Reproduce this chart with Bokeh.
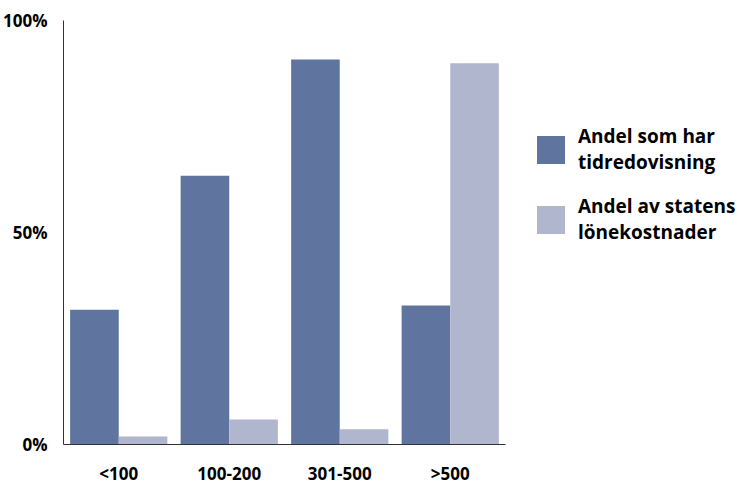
from bokeh.plotting import figure
from bokeh.models import ColumnDataSource, FactorRange, FixedTicker, Legend, LegendItem
from bokeh.transform import dodge
from bokeh.embed import file_html
from bokeh.resources import INLINE

categories = ["<100", "100-200", "301-500", ">500"]
tidredovisning = [31.8, 63.4, 90.8, 32.8]
lonekostnader = [1.9, 5.9, 3.6, 89.9]
y_ticks = [0, 50, 100]
y_tick_labels = {0: "0%", 50: "50%", 100: "100%"}
series_names = ["Andel som har\ntidredovisning", "Andel av statens\nlönekostnader"]

DARK = "#5f749f"
LIGHT = "#b0b6cd"
FONT = "Open Sans"

src = ColumnDataSource(dict(cat=categories, a=tidredovisning, b=lonekostnader))

p = figure(x_range=FactorRange(factors=categories, range_padding=0),
           y_range=(0, 100), width=745, height=484,
           output_backend="svg", toolbar_location=None,
           min_border_left=63, min_border_right=0, min_border_top=20, min_border_bottom=40)
p.frame_width = 442
p.frame_height = 424

r1 = p.vbar(x=dodge("cat", -0.22, range=p.x_range), top="a", width=0.44, source=src,
            color=DARK, line_color=None)
r2 = p.vbar(x=dodge("cat", 0.22, range=p.x_range), top="b", width=0.44, source=src,
            color=LIGHT, line_color=None)

p.grid.visible = False
p.outline_line_color = None
p.background_fill_color = "white"

for ax in (p.xaxis, p.yaxis):
    ax.axis_line_color = "#333333"
    ax.axis_line_width = 1
    ax.major_tick_line_color = None
    ax.minor_tick_line_color = None
    ax.major_label_text_font = FONT
    ax.major_label_text_font_style = "bold"
    ax.major_label_text_font_size = "17px"
    ax.major_label_text_color = "#000000"

p.yaxis.ticker = FixedTicker(ticks=y_ticks)
p.yaxis.major_label_overrides = y_tick_labels
p.yaxis.major_label_standoff = 10
p.xaxis.major_label_standoff = 11

legend = Legend(items=[LegendItem(label=series_names[0], renderers=[r1]),
                       LegendItem(label=series_names[1], renderers=[r2])],
                location=(28, 199), glyph_width=35, glyph_height=35,
                label_text_font=FONT, label_text_font_style="bold",
                label_text_font_size="19px", label_text_color="#000000",
                label_text_line_height=1.3,
                label_standoff=10, spacing=18, border_line_color=None,
                background_fill_alpha=0, padding=0, margin=0)
p.add_layout(legend, "right")

open("out.html", "w").write(file_html(p, INLINE))
